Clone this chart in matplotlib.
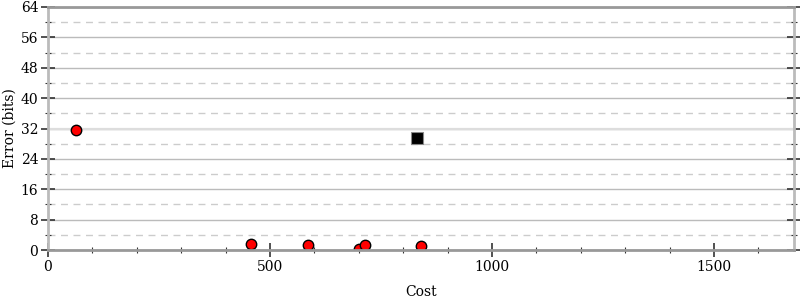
import matplotlib
matplotlib.use("Agg")
import matplotlib.pyplot as plt
from matplotlib.ticker import MultipleLocator

cost = [64, 457, 585, 700, 713, 840]
error = [31.6, 1.7, 1.3, 0.2, 1.2, 1.05]
best_cost = [831]
best_error = [29.5]
x_ticks = [0, 500, 1000, 1500]
y_ticks = [0, 8, 16, 24, 32, 40, 48, 56, 64]

plt.rcParams['font.family'] = ['DejaVu Serif']
fig = plt.figure(figsize=(8, 3), dpi=100)
ax = fig.add_axes([48/800, 50/300, (794-48)/800, (250-7)/300])

ax.set_xlim(0, 1680)
ax.set_ylim(0, 64)
ax.set_xticks(x_ticks)
ax.set_yticks(y_ticks)
ax.xaxis.set_minor_locator(MultipleLocator(100))
ax.yaxis.set_minor_locator(MultipleLocator(4))

ax.grid(which='major', axis='y', color='#bbbbbb', lw=1, ls='-')
ax.grid(which='minor', axis='y', color='#cccccc', lw=1, ls=(0, (5, 4)))
ax.axhline(32, color='#dddddd', lw=1.6, zorder=1.5)
ax.set_axisbelow(True)

for s in ['left', 'right']:
    ax.spines[s].set_color('#bbbbbb')
    ax.spines[s].set_linewidth(2)
ax.spines['bottom'].set_color('#999999')
ax.spines['bottom'].set_linewidth(2)
ax.spines['top'].set_color('#999999')
ax.spines['top'].set_linewidth(2)
for s in ax.spines.values():
    s.set_zorder(5)

ax.tick_params(axis='both', which='major', direction='inout', length=10, width=1.2,
               color='#333333', labelsize=10, pad=2)
ax.tick_params(axis='both', which='minor', direction='inout', length=5, width=0.8,
               color='#333333')
ax.tick_params(axis='y', which='both', right=True, left=True)
ax.tick_params(axis='x', which='both', top=False)

ax.plot(cost, error, 'o', color='red', markeredgecolor='black', markeredgewidth=1,
        markersize=7.5, zorder=3, clip_on=True)
ax.plot(best_cost, best_error, 's', color='black', markeredgecolor='#888888',
        markeredgewidth=0.8, markersize=8, zorder=4)

ax.set_xlabel('Cost', fontsize=10, labelpad=8)
ax.set_ylabel('Error (bits)', fontsize=10)
ax.yaxis.set_label_coords(-31/746, 0.5)

fig.savefig('out.png', dpi=100)
